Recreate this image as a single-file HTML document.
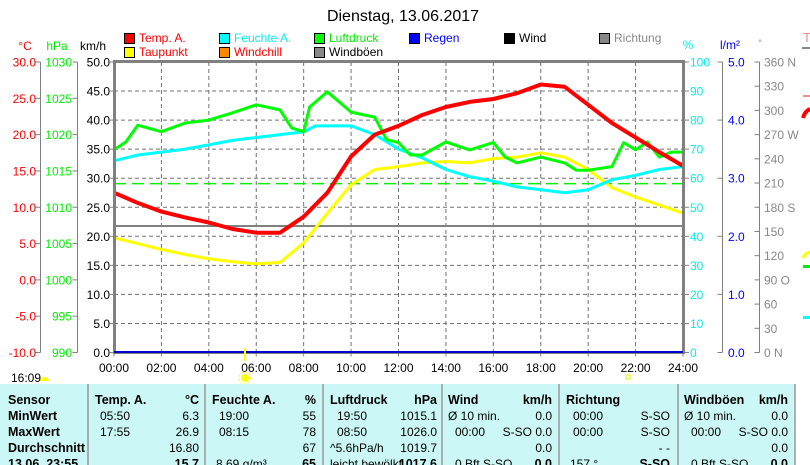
<!DOCTYPE html>
<html><head><meta charset="utf-8">
<style>
html,body{margin:0;padding:0;background:#fff;}
svg{display:block;font-family:"Liberation Sans",sans-serif;}
.t{font-size:12px;}
.b{font-weight:bold;font-size:12.5px;}
</style></head>
<body>
<svg id="chart" width="810" height="465" viewBox="0 0 810 465" xmlns="http://www.w3.org/2000/svg">
<text x="403" y="21" text-anchor="middle" font-size="16">Dienstag, 13.06.2017</text>

<g class="t">
 <g><rect x="124.5" y="33.5" width="10" height="10" fill="#f00" stroke="#000"/><text x="139" y="42" fill="#f00">Temp. A.</text></g>
 <g><rect x="219.5" y="33.5" width="10" height="10" fill="#0ff" stroke="#000"/><text x="234" y="42" fill="#0ee">Feuchte A.</text></g>
 <g><rect x="314.5" y="33.5" width="10" height="10" fill="#0f0" stroke="#000"/><text x="329" y="42" fill="#0e0">Luftdruck</text></g>
 <g><rect x="409.5" y="33.5" width="10" height="10" fill="#00f" stroke="#000"/><text x="424" y="42" fill="#00f">Regen</text></g>
 <g><rect x="504.5" y="33.5" width="10" height="10" fill="#000" stroke="#000"/><text x="519" y="42" fill="#000">Wind</text></g>
 <g><rect x="599.5" y="33.5" width="10" height="10" fill="#888" stroke="#000"/><text x="614" y="42" fill="#888">Richtung</text></g>
 <g><rect x="124.5" y="47.5" width="10" height="10" fill="#ff0" stroke="#000"/><text x="139" y="56" fill="#f00">Taupunkt</text></g>
 <g><rect x="219.5" y="47.5" width="10" height="10" fill="#f80" stroke="#000"/><text x="234" y="56" fill="#f00">Windchill</text></g>
 <g><rect x="314.5" y="47.5" width="10" height="10" fill="#888" stroke="#000"/><text x="329" y="56" fill="#000">Windböen</text></g>
</g>

<g class="t">
 <text x="25" y="50" fill="#f00" text-anchor="middle">°C</text>
 <text x="57" y="50" fill="#0e0" text-anchor="middle">hPa</text>
 <text x="93" y="50" fill="#000" text-anchor="middle">km/h</text>
 <text x="688" y="49" fill="#0ee" text-anchor="middle">%</text>
 <text x="730" y="49" fill="#00f" text-anchor="middle">l/m²</text>
 <text x="760" y="46" fill="#888" text-anchor="middle" font-size="9">°</text>
</g>

<g id="grid"></g>
<g id="axes" class="t"></g>
<g id="series"></g>

<rect x="114.5" y="61.5" width="569" height="291" fill="none" stroke="#808080" stroke-width="3"/>
<line x1="114" y1="352" x2="683" y2="352" stroke="#00c" stroke-width="2"/>

<g>
 <line x1="245" y1="348" x2="245" y2="361" stroke="#ff0" stroke-width="2"/>
 <circle cx="245" cy="378" r="4" fill="#ff0"/>
 <circle cx="245" cy="378" r="6" fill="none" stroke="#ff0" stroke-dasharray="2 2"/>
 <rect x="626" y="375" width="4" height="4" fill="none" stroke="#ee0"/>
 <path d="M40 381 A4.5 4 0 0 1 49 381 Z" fill="#ff0"/>
</g>
<text class="t" x="11" y="382">16:09</text>

<g>
 <text x="803" y="42" fill="#f88" font-size="13">T</text>
 <rect x="802" y="47" width="8" height="2" fill="#888"/>
 <rect x="803" y="95" width="7" height="2" fill="#f88"/>
 <path d="M803 118 Q805 111 810 109" stroke="#f00" stroke-width="4" fill="none"/>
 <path d="M803 258 Q805 253 810 252" stroke="#ff0" stroke-width="3" fill="none"/>
 <rect x="803" y="265" width="7" height="3" fill="#0e0"/>
 <rect x="803" y="316" width="7" height="3" fill="#0ff"/>
</g>

<g>
 <rect x="0" y="384" width="795" height="81" fill="#ccf7f7"/>
 <g stroke="#999" stroke-width="1.5">
  <line x1="88" y1="384" x2="88" y2="465"/><line x1="205" y1="384" x2="205" y2="465"/>
  <line x1="323" y1="384" x2="323" y2="465"/><line x1="442" y1="384" x2="442" y2="465"/>
  <line x1="559" y1="384" x2="559" y2="465"/><line x1="678" y1="384" x2="678" y2="465"/>
  <line x1="795" y1="384" x2="795" y2="465"/>
 </g>
 <g class="b">
  <text x="8" y="404">Sensor</text><text x="8" y="420">MinWert</text><text x="8" y="436">MaxWert</text><text x="8" y="452">Durchschnitt</text><text x="8" y="468">13.06. 23:55</text>
  <text x="95" y="404">Temp. A.</text><text x="199" y="404" text-anchor="end">°C</text>
  <text x="212" y="404">Feuchte A.</text><text x="316" y="404" text-anchor="end">%</text>
  <text x="330" y="404">Luftdruck</text><text x="437" y="404" text-anchor="end">hPa</text>
  <text x="448" y="404">Wind</text><text x="552" y="404" text-anchor="end">km/h</text>
  <text x="566" y="404">Richtung</text>
  <text x="684" y="404">Windböen</text><text x="788" y="404" text-anchor="end">km/h</text>
  <text x="199" y="468" text-anchor="end">15.7</text><text x="316" y="468" text-anchor="end">65</text>
  <text x="437" y="468" text-anchor="end">1017.6</text><text x="552" y="468" text-anchor="end">0.0</text>
  <text x="670" y="468" text-anchor="end">S-SO</text><text x="788" y="468" text-anchor="end">0.0</text>
 </g>
 <g class="t">
  <text x="100" y="420">05:50</text><text x="199" y="420" text-anchor="end">6.3</text>
  <text x="100" y="436">17:55</text><text x="199" y="436" text-anchor="end">26.9</text>
  <text x="199" y="452" text-anchor="end">16.80</text>
  <text x="219" y="420">19:00</text><text x="316" y="420" text-anchor="end">55</text>
  <text x="219" y="436">08:15</text><text x="316" y="436" text-anchor="end">78</text>
  <text x="316" y="452" text-anchor="end">67</text><text x="216" y="468">8.69 g/m³</text>
  <text x="337" y="420">19:50</text><text x="437" y="420" text-anchor="end">1015.1</text>
  <text x="337" y="436">08:50</text><text x="437" y="436" text-anchor="end">1026.0</text>
  <text x="330" y="452">^5.6hPa/h</text><text x="437" y="452" text-anchor="end">1019.7</text>
  <text x="330" y="468">leicht bewölkt</text>
  <text x="448" y="420">Ø 10 min.</text><text x="552" y="420" text-anchor="end">0.0</text>
  <text x="455" y="436">00:00</text><text x="552" y="436" text-anchor="end">S-SO 0.0</text>
  <text x="552" y="452" text-anchor="end">0.0</text><text x="455" y="468">0 Bft S-SO</text>
  <text x="573" y="420">00:00</text><text x="670" y="420" text-anchor="end">S-SO</text>
  <text x="573" y="436">00:00</text><text x="670" y="436" text-anchor="end">S-SO</text>
  <text x="670" y="452" text-anchor="end">- -</text><text x="570" y="468">157 °</text>
  <text x="684" y="420">Ø 10 min.</text><text x="788" y="420" text-anchor="end">0.0</text>
  <text x="691" y="436">00:00</text><text x="788" y="436" text-anchor="end">S-SO 0.0</text>
  <text x="788" y="452" text-anchor="end">0.0</text><text x="691" y="468">0 Bft S-SO</text>
 </g>
</g>

<script>
// ---- data ----
const hours = [0,1,2,3,4,5,6,7,8,9,10,11,12,13,14,15,16,17,18,19,20,21,22,23,24];
const tempValues = [12.0,10.6,9.4,8.6,7.9,7.0,6.5,6.5,8.7,12.0,17.0,20.0,21.2,22.7,23.8,24.5,24.9,25.7,26.9,26.6,24.1,21.6,19.6,17.6,15.7];
const dewValues = [5.8,5.0,4.2,3.5,2.9,2.5,2.2,2.4,5.1,9.2,13.1,15.2,15.6,16.1,16.3,16.1,16.7,16.9,17.5,16.9,15.2,12.7,11.4,10.3,9.2];
const humHours = [0,1,2,3,4,5,6,7,8,8.5,9,10,11,12,13,14,15,16,17,18,19,20,21,22,23,24];
const humValues = [66,68,69,70,71.5,73,74,75,76,78,78,78,75,70,67,63,60.5,59,57,56,55,56,59.5,61,63,64];
const presHours = [0,0.5,1,2,3,4,5,6,7,7.5,8,8.25,9,10,11,11.5,12,12.5,13,14,15,16,16.5,17,18,19,19.5,20,21,21.5,22,22.5,23,23.5,24];
const presValues = [1017.9,1019.0,1021.3,1020.4,1021.6,1022.0,1023.0,1024.1,1023.4,1020.9,1020.4,1023.8,1025.9,1023.1,1022.4,1019.3,1018.9,1017.2,1017.2,1019.0,1017.9,1018.9,1016.9,1016.1,1016.9,1016.1,1015.1,1015.1,1015.6,1018.9,1017.9,1019.0,1016.9,1017.6,1017.6];
const xTickLabels = ["00:00","02:00","04:00","06:00","08:00","10:00","12:00","14:00","16:00","18:00","20:00","22:00","24:00"];
const tempTicks = ["30.0","25.0","20.0","15.0","10.0","5.0","0.0","-5.0","-10.0"];
const presTicks = ["1030","1025","1020","1015","1010","1005","1000","995","990"];
const kmhTicks = ["50.0","45.0","40.0","35.0","30.0","25.0","20.0","15.0","10.0","5.0","0.0"];
const humTicks = ["100","90","80","70","60","50","40","30","20","10","0"];
const rainTicks = ["5.0","4.0","3.0","2.0","1.0","0.0"];
const dirTicks = ["360 N","330","300","270 W","240","210","180 S","150","120","90  O","60","30","0   N"];

// ---- scales ----
const X0=114, X1=683, Y0=62, Y1=352.5;
const xS = h => X0 + h/24*(X1-X0);
const tS = t => Y0 + (30-t)/40*(Y1-Y0);
const pS = p => Y0 + (1030-p)/40*(Y1-Y0);
const hS = v => Y0 + (100-v)/100*(Y1-Y0);
const NS="http://www.w3.org/2000/svg";
function mk(tag, attrs, parent){const e=document.createElementNS(NS,tag);for(const k in attrs)e.setAttribute(k,attrs[k]);parent.appendChild(e);return e;}
const grid=document.getElementById('grid'), axes=document.getElementById('axes'), ser=document.getElementById('series');

// grid
for(let i=1;i<12;i++){const x=xS(i*2);const l=mk('line',{x1:x,y1:Y0,x2:x,y2:Y1,stroke:'#707070','stroke-dasharray':'4 3'},grid);

}
for(let i=1;i<10;i++){const y=Y0+i*(Y1-Y0)/10;const l=mk('line',{x1:X0,y1:y,x2:X1,y2:y,stroke:'#707070','stroke-dasharray':'4 3'},grid);

}
const ref=mk('line',{x1:X0,y1:226,x2:X1,y2:226,stroke:'#808080','stroke-width':2},grid);


const norm=mk('line',{x1:X0,y1:pS(1013.25),x2:X1,y2:pS(1013.25),stroke:'#0e0','stroke-width':1.5,'stroke-dasharray':'12 6'},grid);



// axes
function vaxis(name,lineX,ticks,labelX,anchor,color,tickDir){
 const g=mk('g',{},axes);
 
 
 mk('line',{x1:lineX,y1:Y0,x2:lineX,y2:Y1,stroke:'#808080'},g);
 const n=ticks.length;
 ticks.forEach((lab,i)=>{const y=Y0+i*(Y1-Y0)/(n-1);
  mk('line',{x1:lineX,y1:y,x2:lineX+tickDir*5,y2:y,stroke:'#808080'},g);
  const t=mk('text',{x:labelX,y:y+4.5,'text-anchor':anchor,fill:color},g);t.textContent=lab;
  
  });
}
vaxis('temp-axis',40.5,tempTicks,36,'end','#f00',-1);
vaxis('pressure-axis',77.5,presTicks,72,'end','#0e0',-1);
vaxis('humidity-axis',684,humTicks,690,'start','#0ee',1);
vaxis('rain-axis',722.5,rainTicks,728,'start','#00f',-1);
vaxis('direction-axis',759.5,dirTicks,764,'start','#888',-1);
const kg=mk('g',{},axes);


kmhTicks.forEach((lab,i)=>{const y=Y0+i*(Y1-Y0)/10;
 mk('line',{x1:110,y1:y,x2:114,y2:y,stroke:'#808080'},kg);
 const t=mk('text',{x:110,y:y+4.5,'text-anchor':'end',fill:'#000'},kg);t.textContent=lab;
 
 });
xTickLabels.forEach((lab,i)=>{const x=xS(i*2);
 mk('line',{x1:x,y1:Y1,x2:x,y2:Y1+4,stroke:'#808080'},axes);
 const t=mk('text',{x:x,y:372,'text-anchor':'middle',fill:'#000'},axes);t.textContent=lab;
 
 });

// series
function line(name,xs,vs,sc,color,w){
 const d=xs.map((h,i)=>(i?'L':'M')+xS(h).toFixed(1)+' '+sc(vs[i]).toFixed(1)).join(' ');
 const p=mk('path',{d:d,fill:'none',stroke:color,'stroke-width':w,'stroke-linejoin':'round'},ser);
 
 
}
line('dewpoint-line',hours,dewValues,tS,'#ff0',3);
line('humidity-line',humHours,humValues,hS,'#0ff',3);
line('pressure-line',presHours,presValues,pS,'#0f0',3);
line('temperature-line',hours,tempValues,tS,'#f00',4);
</script>
</svg>
</body></html>
